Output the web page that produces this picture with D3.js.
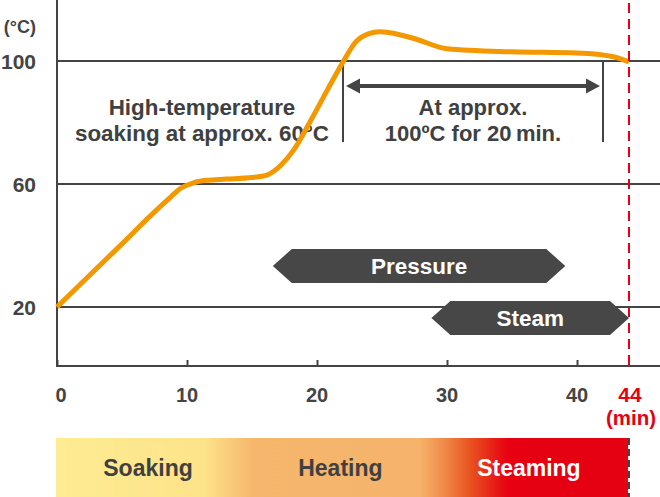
<!DOCTYPE html>
<html>
<head>
<meta charset="utf-8">
<script src="https://cdn.jsdelivr.net/npm/d3@7"></script>
<style>
  html, body { margin: 0; padding: 0; background: #fff; }
  svg { display: block; }
  text { font-family: "Liberation Sans", Arial, Helvetica, sans-serif; font-weight: 700; }
</style>
</head>
<body>
<div id="chart"></div>
<script>
// ---- data ----
const timeMin = [0, 4.6, 8.4, 9.6, 10.5, 11.5, 13, 15, 16.2, 17.2, 18.2, 19.5, 20.8, 22, 23, 24, 24.8, 25.6, 27.4, 30, 35, 40, 42.8, 44];
const tempC   = [20, 38.9, 54.4, 58.8, 60.4, 61.2, 61.6, 62.1, 63, 66, 71, 80.5, 90.6, 99.7, 106.3, 108.9, 109.5, 109.2, 107.4, 104, 103, 102.6, 101.4, 99.7];
const yTicks = [20, 60, 100];
const xTicks = [0, 10, 20, 30, 40];
const endTime = 44;
const holdRange = [22, 42];
const phaseBars = [
  { label: "Pressure", start: 16.6, end: 39.1, row: 0 },
  { label: "Steam", start: 28.8, end: 44, row: 1 }
];
const stages = [
  { label: "Soaking", center: 7 },
  { label: "Heating", center: 21.8 },
  { label: "Steaming", center: 36.3 }
];
const leftNote = ["High-temperature", "soaking at approx. 60°C"];
const rightNote = ["At approx.", "100ºC for 20\u2009min."];

// ---- layout ----
const W = 660, H = 497;
const grey = "#444444";
const red = "#E60012";
const orange = "#F39800";

const svg = d3.select("#chart").append("svg").attr("width", W).attr("height", H);
const x = d3.scaleLinear().domain([0, endTime]).range([57, 629]);
const y = d3.scaleLinear().domain([20, 100]).range([307, 61]);
const axisY = 366;

// gradient bar
const defs = svg.append("defs");
const grad = defs.append("linearGradient").attr("id", "stageGrad")
  .attr("x1", "0%").attr("x2", "100%").attr("y1", "0%").attr("y2", "0%");
[[0, "#FEEC92"], [0.26, "#FDE38A"], [0.345, "#F6B66C"], [0.635, "#F5B36B"],
 [0.675, "#F08E4C"], [0.725, "#E8521F"], [0.79, "#E60012"], [1, "#E50012"]]
  .forEach(([o, c]) => grad.append("stop").attr("offset", o).attr("stop-color", c));

svg.append("rect").attr("x", x(0) - 1).attr("y", 438).attr("width", x(endTime) - x(0)).attr("height", 59)
  .attr("fill", "url(#stageGrad)");
svg.append("line").attr("x1", x(endTime)).attr("x2", x(endTime)).attr("y1", 438).attr("y2", 497)
  .attr("stroke", grey).attr("stroke-width", 2).attr("stroke-dasharray", "7,4");

svg.selectAll(".stage").data(stages).enter().append("text")
  .attr("x", d => x(d.center)).attr("y", 476)
  .attr("text-anchor", "middle").attr("font-size", 23)
  .attr("fill", d => d.label === "Steaming" ? "#fff" : "#404040")
  .text(d => d.label);

// gridlines
svg.selectAll(".grid").data(yTicks).enter().append("line")
  .attr("x1", x(0)).attr("x2", W).attr("y1", d => y(d)).attr("y2", d => y(d))
  .attr("stroke", grey).attr("stroke-width", 2);

// y axis line
svg.append("line").attr("x1", x(0)).attr("x2", x(0)).attr("y1", 0).attr("y2", axisY + 1)
  .attr("stroke", grey).attr("stroke-width", 2);
// x axis
const xAxis = d3.axisBottom(x).tickValues(xTicks).tickSize(-6).tickPadding(0).tickFormat("");
const gx = svg.append("g").attr("transform", `translate(0,${axisY})`).call(xAxis);
gx.select(".domain").remove();
gx.selectAll(".tick line").attr("stroke", grey).attr("stroke-width", 2);
svg.append("line").attr("x1", x(0) - 1).attr("x2", W).attr("y1", axisY).attr("y2", axisY)
  .attr("stroke", grey).attr("stroke-width", 2);

// x tick labels
svg.selectAll(".xl").data(xTicks).enter().append("text")
  .attr("x", d => x(d) + (d === 0 ? 4 : 0)).attr("y", 402)
  .attr("text-anchor", "middle").attr("font-size", 20).attr("fill", grey)
  .text(d => d);
svg.append("text").attr("x", x(endTime) + 1).attr("y", 402).attr("text-anchor", "middle")
  .attr("font-size", 21).attr("fill", red).text(endTime);
svg.append("text").attr("x", x(endTime) + 2).attr("y", 425).attr("text-anchor", "middle")
  .attr("font-size", 20.5).attr("fill", red).text("(min)");

// y tick labels
svg.selectAll(".yl").data(yTicks).enter().append("text")
  .attr("x", 36).attr("y", d => y(d) + 8)
  .attr("text-anchor", "end").attr("font-size", 21).attr("fill", grey)
  .text(d => d);
svg.append("text").attr("x", 36).attr("y", 33).attr("text-anchor", "end")
  .attr("font-size", 18).attr("fill", grey).text("(°C)");

// phase bars (hexagonal arrows)
const rowTop = [249, 301], barH = 34, inset = 19;
phaseBars.forEach(b => {
  const t = rowTop[b.row], x0 = x(b.start), x1 = x(b.end), m = t + barH / 2;
  const pts = [[x0, m], [x0 + inset, t], [x1 - inset, t], [x1, m], [x1 - inset, t + barH], [x0 + inset, t + barH]];
  svg.append("path").attr("d", d3.line()(pts) + "Z").attr("fill", "#474747");
  svg.append("text").attr("x", (x0 + x1) / 2).attr("y", m + 8)
    .attr("text-anchor", "middle").attr("font-size", 22.5).attr("fill", "#fff")
    .text(b.label);
});

// hold bracket
const hx0 = x(holdRange[0]), hx1 = x(holdRange[1]);
[hx0, hx1].forEach(xx => svg.append("line").attr("x1", xx).attr("x2", xx)
  .attr("y1", y(100)).attr("y2", 142).attr("stroke", grey).attr("stroke-width", 2));
const ay = 86;
svg.append("line").attr("x1", hx0 + 10).attr("x2", hx1 - 10).attr("y1", ay).attr("y2", ay)
  .attr("stroke", grey).attr("stroke-width", 4);
svg.append("path").attr("d", d3.line()([[hx0 + 3, ay], [hx0 + 17, ay - 7.5], [hx0 + 17, ay + 7.5]]) + "Z").attr("fill", grey);
svg.append("path").attr("d", d3.line()([[hx1 - 3, ay], [hx1 - 17, ay - 7.5], [hx1 - 17, ay + 7.5]]) + "Z").attr("fill", grey);

// annotations
svg.selectAll(".rn").data(rightNote).enter().append("text")
  .attr("x", (hx0 + hx1) / 2).attr("y", (d, i) => 115 + i * 26)
  .attr("text-anchor", "middle").attr("font-size", 22).attr("fill", "#404040")
  .text(d => d);
svg.selectAll(".ln").data(leftNote).enter().append("text")
  .attr("x", 202).attr("y", (d, i) => 115 + i * 26)
  .attr("text-anchor", "middle").attr("font-size", 22.4).attr("fill", "#404040")
  .text(d => d);

// temperature curve
const pts = timeMin.map((t, i) => [t, tempC[i]]);
svg.append("path").datum(pts)
  .attr("d", d3.line().x(d => x(d[0])).y(d => y(d[1])).curve(d3.curveMonotoneX))
  .attr("fill", "none").attr("stroke", orange).attr("stroke-width", 5).attr("stroke-linecap", "butt");

// end marker
svg.append("line").attr("x1", x(endTime)).attr("x2", x(endTime)).attr("y1", 3).attr("y2", axisY)
  .attr("stroke", red).attr("stroke-width", 2).attr("stroke-dasharray", "10,6");
</script>
</body>
</html>
